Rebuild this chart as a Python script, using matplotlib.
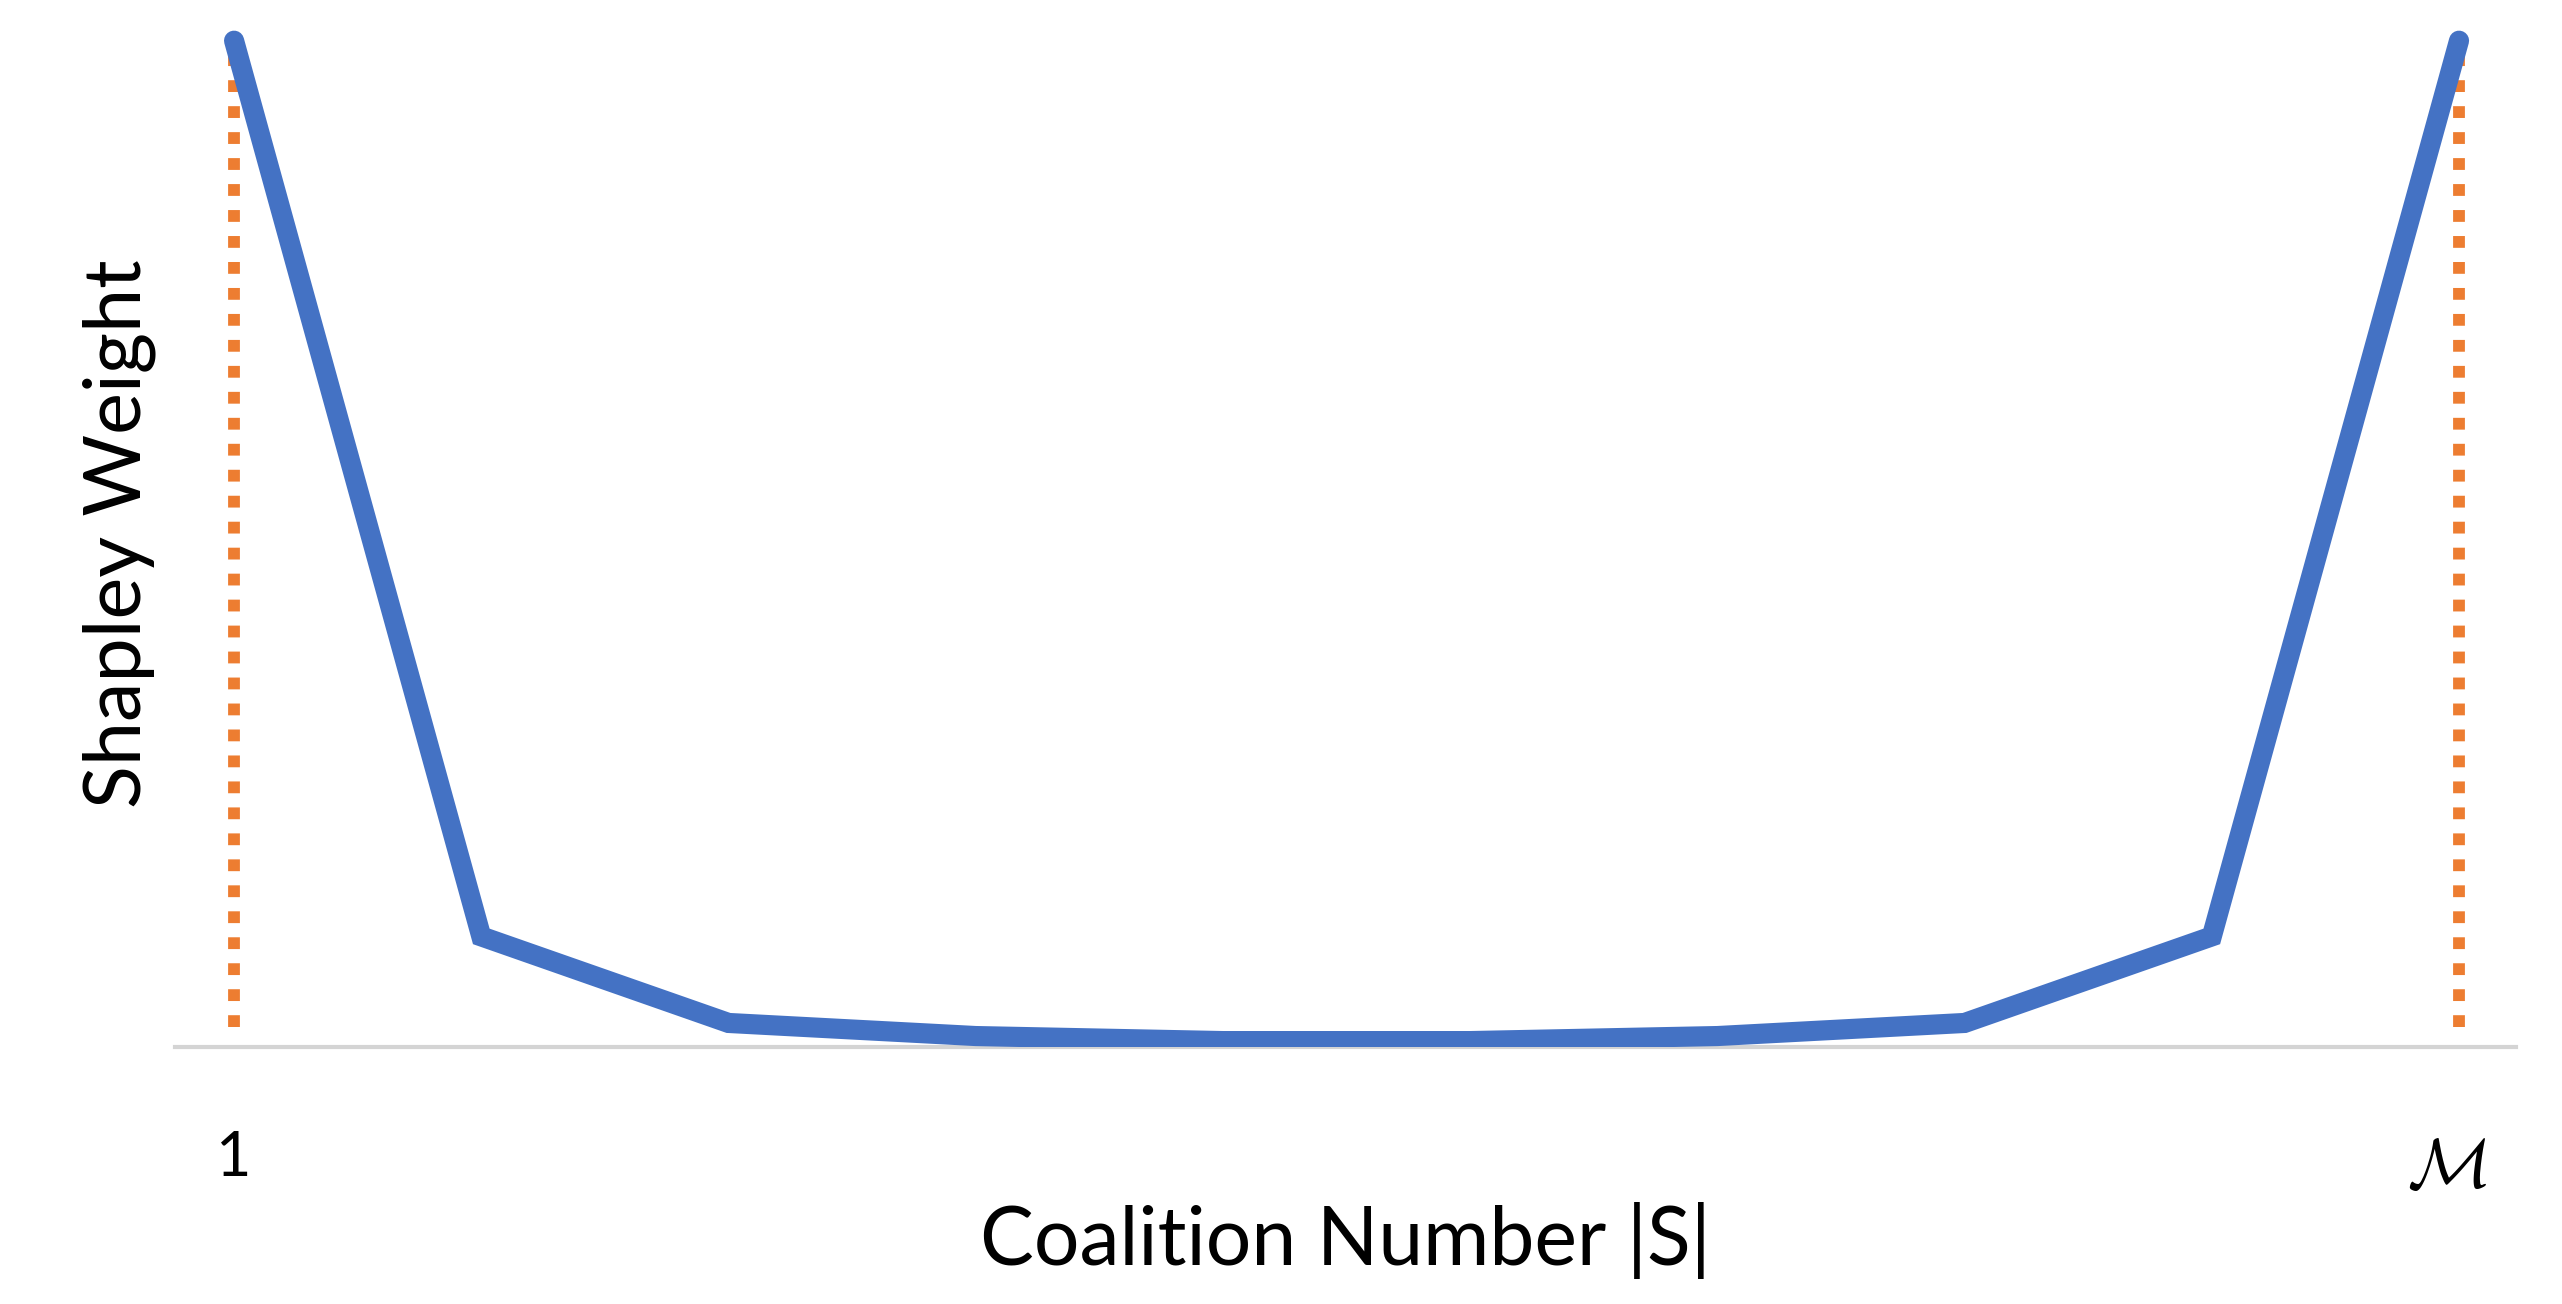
import matplotlib
matplotlib.use("Agg")
import matplotlib.pyplot as plt
from matplotlib.transforms import ScaledTranslation

# ===============================
# DATA
# ===============================
coalition_size = [1, 2, 3, 4, 5, 6, 7, 8, 9, 10]
shapley_weight = [1.0, 0.11, 0.024, 0.011, 0.006, 0.006, 0.011, 0.024, 0.11, 1.0]
marker_x = [1, 10]          # orange dotted guides at the ends
marker_top = [1.0, 1.0]
tick_labels = ["1", r"$\mathcal{M}$"]

BLUE = "#4472C4"
ORANGE = "#ED7D31"

plt.rcParams["font.family"] = ["Lato", "DejaVu Sans"]
plt.rcParams["mathtext.fontset"] = "cm"

fig = plt.figure(figsize=(25.62, 13.04), dpi=100)
ax = fig.add_axes([0.0683, 0.197, 0.9137, 0.788])

# orange dotted verticals
ax.vlines(marker_x, 0.02, [t - 0.012 for t in marker_top], colors=ORANGE,
          linestyles=(0, (1, 1.2)), linewidth=8.5, zorder=2)

# main curve
ax.plot(coalition_size, shapley_weight, color=BLUE, linewidth=14.5,
        solid_joinstyle="miter", solid_capstyle="round", zorder=3)

ax.set_xlim(0.761, 10.23)
ax.set_ylim(0, 1.021)

for side in ["top", "right", "left"]:
    ax.spines[side].set_visible(False)
ax.spines["bottom"].set_color("#d4d4d4")
ax.spines["bottom"].set_linewidth(3)

ax.set_yticks([])
ax.set_xticks(marker_x)
ax.set_xticklabels(tick_labels)
ax.tick_params(axis="x", length=0, pad=60, labelsize=44)
for lbl in ax.get_xticklabels():
    if "mathcal" in lbl.get_text():
        lbl.set_fontsize(50)
        lbl.set_transform(lbl.get_transform() +
                          ScaledTranslation(-0.12, -0.06, fig.dpi_scale_trans))

ax.set_xlabel("Coalition Number |S|", fontsize=58, labelpad=2)
ax.set_ylabel("Shapley Weight", fontsize=57, labelpad=14)

plt.savefig("out.png", dpi=100)
